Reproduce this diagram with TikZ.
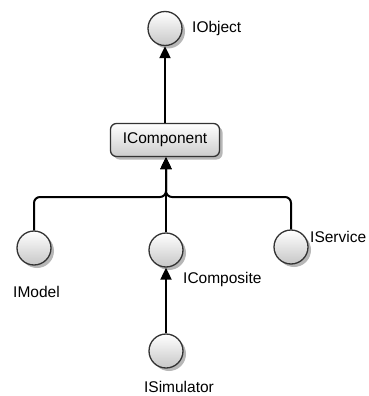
\documentclass[tikz,border=0pt]{standalone}
\usepackage{fontspec}
\setmainfont{Liberation Sans}
\usetikzlibrary{arrows.meta,shadows}
\begin{document}
\begin{tikzpicture}[x=1pt,y=-1pt,
  iface/.style={circle, minimum size=34pt, inner sep=0pt, draw=black!80,
    line width=1.3pt, top color=white, bottom color=black!22,
    drop shadow={shadow xshift=3pt, shadow yshift=-3pt, fill=black!40, opacity=0.7}},
  compbox/.style={rectangle, rounded corners=6pt, minimum width=109pt,
    minimum height=33pt, draw=black!80, line width=1.3pt,
    top color=white, bottom color=black!20,
    drop shadow={shadow xshift=3pt, shadow yshift=-3pt, fill=black!40, opacity=0.7},
    font=\fontsize{15.5}{18}\selectfont},
  lbl/.style={inner sep=0pt, font=\fontsize{15.5}{18}\selectfont},
  conn/.style={line width=2pt, draw=black, -{Triangle[length=12pt,width=11pt]}}]
\useasboundingbox (0,0) rectangle (368,396);
\fill[white] (0,0) rectangle (368,396);

% interface nodes
\node[iface] (obj) at (165,28.5) {};
\node[compbox] (comp) at (165,140) {IComponent};
\node[iface] (model) at (34,248) {};
\node[iface] (composite) at (166,250) {};
\node[iface] (service) at (291,247) {};
\node[iface] (sim) at (166,351) {};

% labels
\node[lbl, anchor=west] (lobj) at (192,28) {IObject};
\node[lbl, anchor=west] (lservice) at (310,237) {IService};
\node[lbl] (lmodel) at (36.5,292) {IModel};
\node[lbl, anchor=west] (lcomposite) at (183,279) {IComposite};
\node[lbl] (lsim) at (179,387) {ISimulator};

% inheritance connectors
\coordinate (j) at (166,197);
\draw[conn] (comp.north -| obj.south) -- (obj.south);
\draw[conn, rounded corners=6pt] (model.north) |- (j) -- (j |- comp.south);
\draw[conn, rounded corners=6pt] (service.north) |- (j) -- (j |- comp.south);
\draw[conn] (composite.north) -- (composite.north |- comp.south);
\draw[conn] (sim.north -| composite.south) -- (composite.south);
\end{tikzpicture}
\end{document}
